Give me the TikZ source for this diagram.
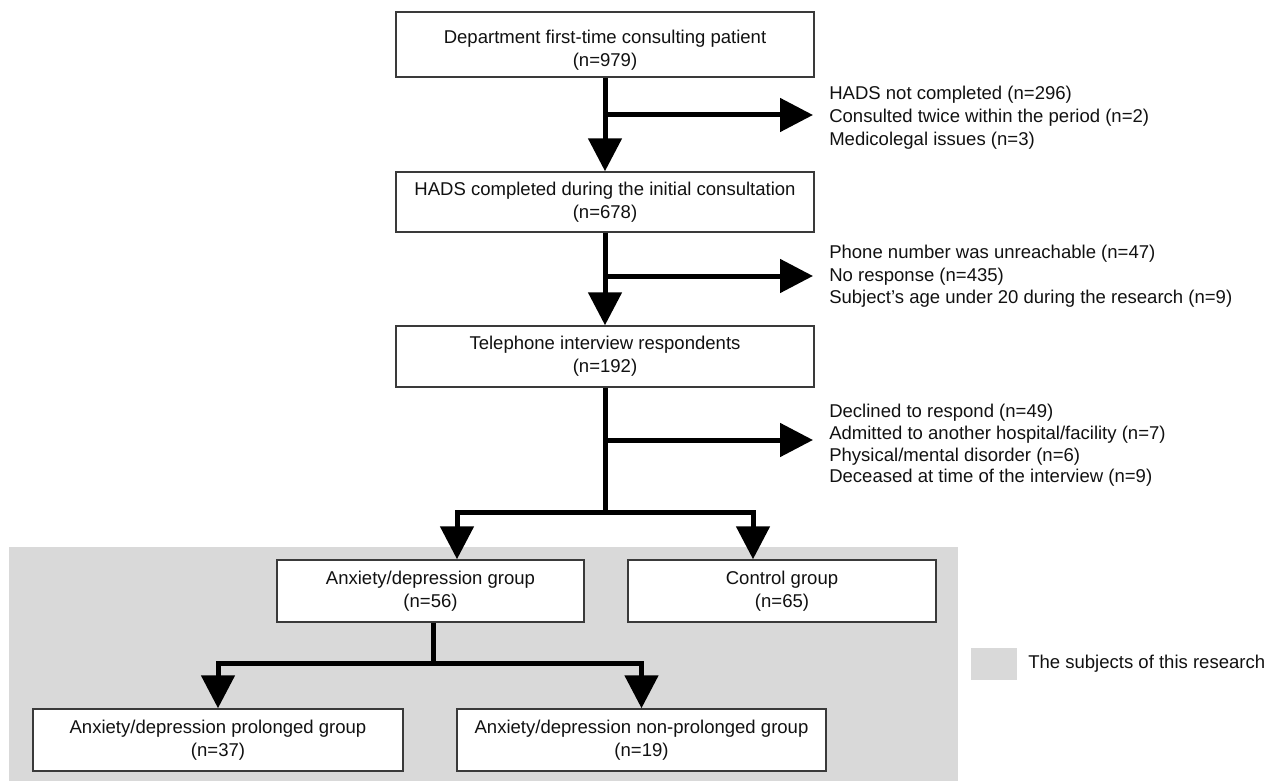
\documentclass[tikz,border=0pt]{standalone}
\usepackage{fontspec}
\setmainfont{Liberation Sans}
\usetikzlibrary{arrows.meta}
\definecolor{subj}{HTML}{D9D9D9}
\definecolor{edge}{HTML}{3A3A3A}
\definecolor{ink}{HTML}{111111}
\begin{document}
\begin{tikzpicture}[x=0.75pt,y=-0.75pt,
  txt/.style={font=\fontsize{13.9}{17.25}\selectfont, text=ink},
  box/.style={txt, draw=edge, line width=1.1pt, fill=white, align=center, inner sep=0pt},
  side/.style={txt, anchor=west, align=left, inner sep=0pt},
  bar/.style={line width=3.75pt, draw=black},
  flow/.style={bar, -{Triangle[width=24.75pt,length=24.75pt]}}]
\useasboundingbox (0,0) rectangle (1278,781);
% region of the subjects
\fill[subj] (9,547) rectangle (958,781);
% main boxes
\node[box, minimum width=313.5pt, minimum height=48.75pt,
  label={[txt,align=center,yshift=-4.5pt]center:{Department first-time consulting patient\\(n=979)}}] (b1) at (605,44.5) {};
\node[box, minimum width=313.5pt, minimum height=45pt] (b2) at (605,202) {HADS completed during the initial consultation\\(n=678)};
\node[box, minimum width=313.5pt, minimum height=45.75pt] (b3) at (605,356.5) {Telephone interview respondents\\(n=192)};
\node[box, minimum width=230.25pt, minimum height=46.5pt] (ad) at (430.5,591) {Anxiety/depression group\\(n=56)};
\node[box, minimum width=231pt, minimum height=46.5pt] (ctl) at (782,591) {Control group\\(n=65)};
\node[box, minimum width=277.5pt, minimum height=46.5pt] (bl) at (218,740) {Anxiety/depression prolonged group\\(n=37)};
\node[box, minimum width=276.75pt, minimum height=46.5pt] (br) at (641.5,740) {Anxiety/depression non-prolonged group\\(n=19)};
% side texts
\node[side] (ex1) at (829,118) {HADS not completed (n=296)\\Consulted twice within the period (n=2)\\Medicolegal issues (n=3)};
\node[side, font=\fontsize{13.9}{16.9}\selectfont] (ex2) at (829,276.5) {Phone number was unreachable (n=47)\\No response (n=435)\\Subject's age under 20 during the research (n=9)};
\node[side, font=\fontsize{13.9}{16.3}\selectfont] (ex3) at (829,445.5) {Declined to respond (n=49)\\Admitted to another hospital/facility (n=7)\\Physical/mental disorder (n=6)\\Deceased at time of the interview (n=9)};
% legend
\node[fill=subj, inner sep=0pt, minimum width=34.5pt, minimum height=24pt] (leg) at (994,664) {};
\node[txt, anchor=west, inner sep=0pt] (legt) at (1028,664) {The subjects of this research};
% junction points
\coordinate (k1) at (605,115);
\coordinate (k2) at (605,276);
\coordinate (k3) at (605,440);
\coordinate (j3) at (605,512);
\coordinate (dl) at (457,512);
\coordinate (dr) at (753,512);
\coordinate (j4) at (433,663);
% main flow
\draw[flow] (b1.south) -- (b2.north);
\draw[flow] (b2.south) -- (b3.north);
\draw[bar] (b3.south) -- (j3);
\draw[flow] (j3) -| (dl |- ad.north);
\draw[flow] (j3) -| (dr |- ctl.north);
% exclusions
\draw[flow, shorten >=12pt] (k1) -- (k1 -| ex1.west);
\draw[flow, shorten >=12pt] (k2) -- (k2 -| ex2.west);
\draw[flow, shorten >=12pt] (k3) -- (k3 -| ex3.west);
% second split
\draw[bar] (ad.south -| j4) -- (j4);
\draw[flow] (j4) -| (bl.north);
\draw[flow] (j4) -| (br.north);
\end{tikzpicture}
\end{document}
